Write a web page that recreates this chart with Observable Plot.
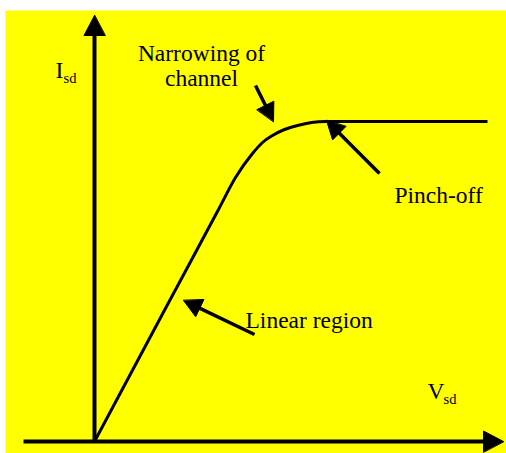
<!DOCTYPE html>
<html>
<head>
<meta charset="utf-8">
<script src="https://cdn.jsdelivr.net/npm/d3@7"></script>
<script src="https://cdn.jsdelivr.net/npm/@observablehq/plot@0.6"></script>
<style>
  html, body { margin: 0; padding: 0; background: #ffffff; }
  #chart svg text { font-family: "Liberation Serif", "Times New Roman", serif !important; }
</style>
</head>
<body>
<div id="chart"></div>
<script>
// Output characteristic curve (Isd vs Vsd), arbitrary units
const curveV = [0, 1.76, 3.1, 3.525, 3.95, 4.2, 4.45, 4.75, 5.075, 5.425, 5.775, 9.825];
const curveI = [0, 3.3, 5.8, 6.6, 7.2, 7.475, 7.65, 7.8, 7.9, 7.975, 8.0, 8.0];

// Axes (drawn as arrows)
const axisFromV = [-1.775, 0];
const axisFromI = [0, 0];
const axisToV = [10.225, 0];
const axisToI = [0, 10.65];

// Axis names with subscripts
const axisNames = ["I", "V"];
const axisSubs = ["sd", "sd"];
const axisNameV = [-0.975, 8.325];
const axisNameI = [9.1, 1.075];
const axisSubV = [-0.775, 8.725];
const axisSubI = [8.975, 0.95];

// Annotations
const arrowLabels = ["Narrowing of\nchannel", "Pinch-off", "Linear region"];
const arrowFromV = [4.025, 7.125, 4.0];
const arrowFromI = [8.9, 6.7, 2.675];
const arrowToV = [4.475, 5.8, 2.225];
const arrowToI = [8.0, 8.025, 3.525];
const labelV = [2.675, 7.5, 3.775];
const labelI = [8.9, 5.975, 2.85];
const labelAnchor = ["middle", "start", "start"];

// Build tables
const curve = curveV.map((v, i) => ({V: v, I: curveI[i]}));

function arrowGeom(fromV, fromI, toV, toI, len, hw, id) {
  const dx = toV - fromV, dy = toI - fromI;
  const d = Math.hypot(dx, dy);
  const ux = dx / d, uy = dy / d;
  const bx = toV - ux * len, by = toI - uy * len;
  const nx = -uy, ny = ux;
  return {
    shaft: [{id, V: fromV, I: fromI}, {id, V: bx + ux * 0.05, I: by + uy * 0.05}],
    head: [
      {id, V: toV, I: toI},
      {id, V: bx + nx * hw, I: by + ny * hw},
      {id, V: bx - nx * hw, I: by - ny * hw}
    ]
  };
}

const axisGeom = axisFromV.map((_, i) =>
  arrowGeom(axisFromV[i], axisFromI[i], axisToV[i], axisToI[i], 0.5, 0.2625, "axis" + i));
const annGeom = arrowLabels.map((_, i) =>
  arrowGeom(arrowFromV[i], arrowFromI[i], arrowToV[i], arrowToI[i], 0.45, 0.235, "ann" + i));

const axisShafts = axisGeom.flatMap(g => g.shaft);
const annShafts = annGeom.flatMap(g => g.shaft);
const heads = [...axisGeom, ...annGeom].flatMap(g => g.head);

const labels = arrowLabels.map((t, i) => ({t, V: labelV[i], I: labelI[i], a: labelAnchor[i]}));
const names = axisNames.map((t, i) => ({t, s: axisSubs[i], V: axisNameV[i], I: axisNameI[i], sV: axisSubV[i], sI: axisSubI[i]}));

const font = "'Liberation Serif', 'Times New Roman', serif";

const chart = Plot.plot({
  width: 506,
  height: 453,
  marginLeft: 5,
  marginRight: 0,
  marginTop: 10,
  marginBottom: 0,
  x: {domain: [-2.225, 10.3], axis: null},
  y: {domain: [-0.3, 10.775], axis: null},
  style: {background: "#ffffff", overflow: "visible", fontFamily: font},
  marks: [
    Plot.frame({fill: "#ffff00", stroke: null}),
    Plot.line(axisShafts, {x: "V", y: "I", z: "id", stroke: "black", strokeWidth: 4, strokeLinecap: "butt"}),
    Plot.line(annShafts, {x: "V", y: "I", z: "id", stroke: "black", strokeWidth: 3.5, strokeLinecap: "butt"}),
    Plot.line(heads, {x: "V", y: "I", z: "id", fill: "black", stroke: "black", strokeWidth: 1, curve: "linear-closed"}),
    Plot.line(curve, {x: "V", y: "I", stroke: "black", strokeWidth: 3, curve: "monotone-x", strokeLinecap: "butt"}),
    Plot.text(labels.filter(d => d.a === "middle"), {x: "V", y: "I", text: "t", textAnchor: "middle", lineAnchor: "bottom", lineHeight: 1.06, fontSize: 23.5, fontFamily: font, fill: "black"}),
    Plot.text(labels.filter(d => d.a === "start"), {x: "V", y: "I", text: "t", textAnchor: "start", lineAnchor: "bottom", fontSize: 23.5, fontFamily: font, fill: "black"}),
    Plot.text(names, {x: "V", y: "I", text: "t", textAnchor: "start", lineAnchor: "bottom", fontSize: 23.5, fontFamily: font, fill: "black"}),
    Plot.text(names, {x: "sV", y: "sI", text: "s", textAnchor: "start", lineAnchor: "bottom", fontSize: 14.5, fontFamily: font, fill: "black"})
  ]
});

document.getElementById("chart").appendChild(chart);
</script>
</body>
</html>
